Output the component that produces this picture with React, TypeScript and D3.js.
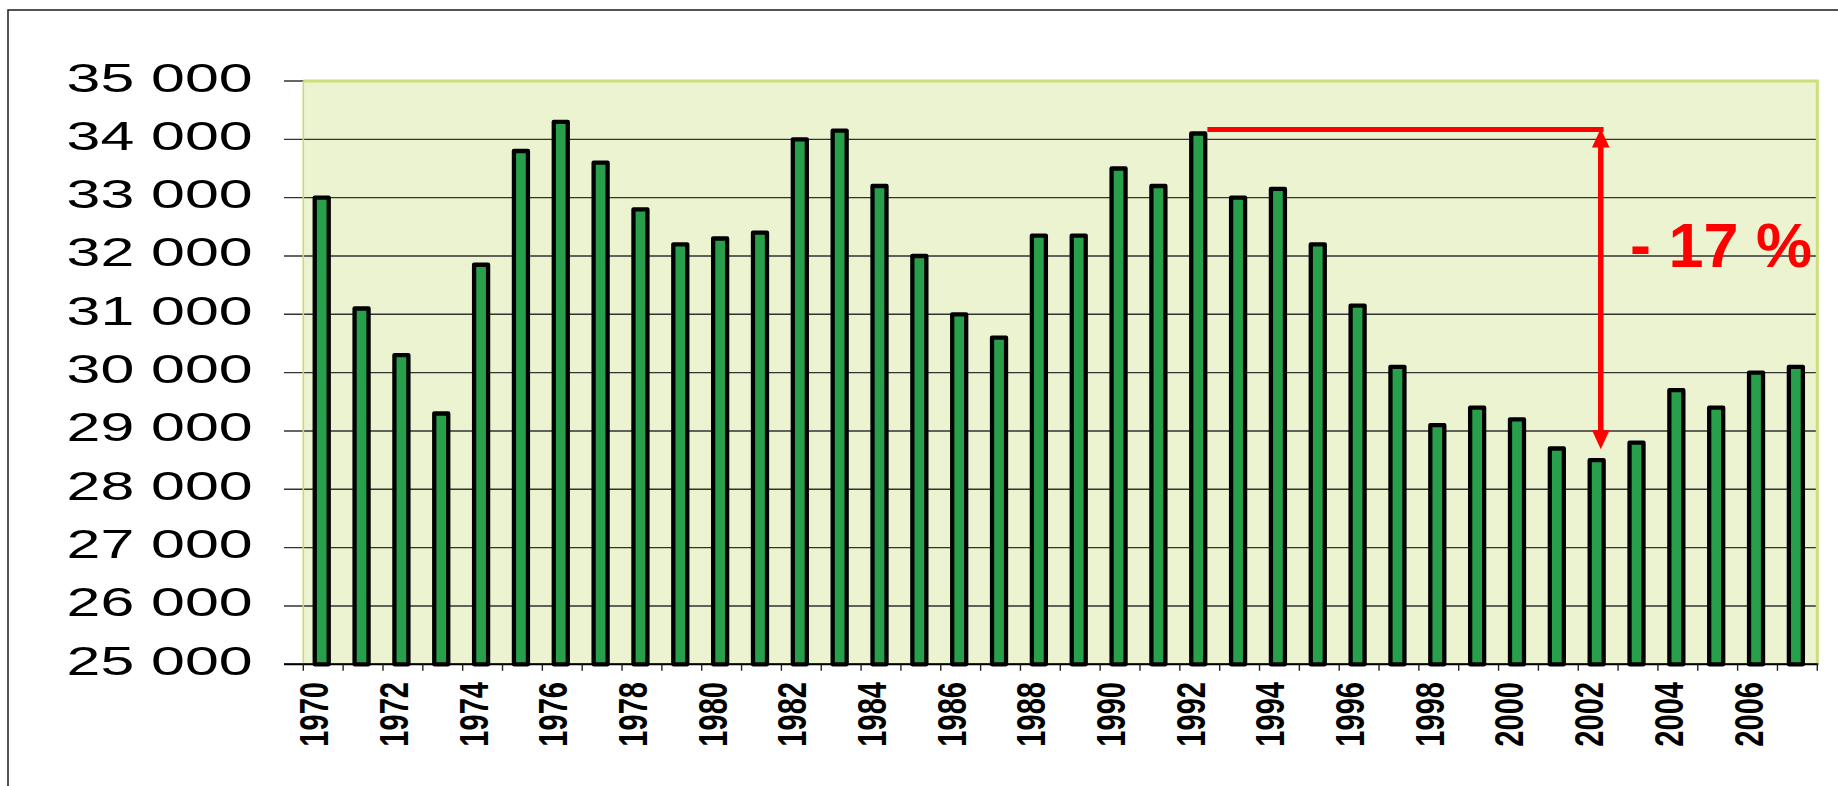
import React from 'react';
import * as d3 from 'd3';

const years = [
  1970, 1971, 1972, 1973, 1974, 1975, 1976, 1977, 1978, 1979,
  1980, 1981, 1982, 1983, 1984, 1985, 1986, 1987, 1988, 1989,
  1990, 1991, 1992, 1993, 1994, 1995, 1996, 1997, 1998, 1999,
  2000, 2001, 2002, 2003, 2004, 2005, 2006, 2007,
];
const values = [
  33000, 31100, 30300, 29300, 31850, 33800, 34300, 33600, 32800, 32200,
  32300, 32400, 34000, 34150, 33200, 32000, 31000, 30600, 32350, 32350,
  33500, 33200, 34100, 33000, 33150, 32200, 31150, 30100, 29100, 29400,
  29200, 28700, 28500, 28800, 29700, 29400, 30000, 30100,
];
const yTicks = [25000, 26000, 27000, 28000, 29000, 30000, 31000, 32000, 33000, 34000, 35000];
const xLabelYears = [1970, 1972, 1974, 1976, 1978, 1980, 1982, 1984, 1986, 1988, 1990, 1992, 1994, 1996, 1998, 2000, 2002, 2004, 2006];
const peakYear = 1992;
const troughYear = 2002;
const changeLabel = '- 17 %';

const W = 1838;
const H = 786;
const left = 303.3;
const right = 1817.3;
const top = 81;
const bottom = 664.3;

const fmt = (v: number) => `${Math.floor(v / 1000)} 000`;

export default function App() {
  const x = d3.scaleBand<number>().domain(years).range([left, right]).padding(0);
  const y = d3.scaleLinear().domain([25000, 35000]).range([bottom, top]);
  const bw = x.bandwidth();
  const barW = 14;
  const barStroke = 4.3;
  const barShift = -1.5;
  const cx = (yr: number) => (x(yr) as number) + bw / 2 + barShift;

  const peakVal = values[years.indexOf(peakYear)];
  const troughVal = values[years.indexOf(troughYear)];
  const lineY = y(peakVal) - 4;
  const arrowX = (x(troughYear) as number) + bw / 2 + 2.6;
  const topTip = lineY - 1;
  const botTip = y(troughVal) - 11;
  const headL = 19;
  const headHalf = 8.8;
  const red = '#ff0000';

  return (
    <svg width={W} height={H} style={{ position: 'absolute', left: 0, top: 0, background: '#ffffff' }}>
      <rect x={8} y={10} width={W + 20} height={H + 20} fill="#ffffff" stroke="#1a1a1a" strokeWidth={1.5} />
      {/* plot background */}
      <rect x={left} y={top} width={right - left} height={bottom - top} fill="#ebf3d1" />
      {/* gridlines + y ticks */}
      {yTicks.map((t) => (
        <line key={t} x1={284} x2={right} y1={y(t)} y2={y(t)} stroke="#333333" strokeWidth={1.4} />
      ))}
      {/* plot border */}
      <line x1={left} x2={left} y1={top} y2={bottom} stroke="#c9da78" strokeWidth={1.6} />
      <line x1={left} x2={right + 1.5} y1={top} y2={top} stroke="#cddf7a" strokeWidth={2.8} />
      <line x1={right} x2={right} y1={top} y2={bottom} stroke="#cddf7a" strokeWidth={3} />
      {/* bars */}
      {years.map((yr, i) => (
        <rect
          key={yr}
          x={cx(yr) - barW / 2}
          y={y(values[i])}
          width={barW}
          height={y(25000) - y(values[i])}
          fill="#28a04b"
          stroke="#000000"
          strokeWidth={barStroke}
          strokeLinejoin="round"
        />
      ))}
      {/* x axis */}
      <line x1={284} x2={right + 1} y1={bottom} y2={bottom} stroke="#000000" strokeWidth={2} />
      {years.concat([2008]).map((yr, i) => {
        const xx = left + i * bw;
        return <line key={'t' + yr} x1={xx} x2={xx} y1={bottom} y2={bottom + 6.5} stroke="#222222" strokeWidth={1.4} />;
      })}
      {/* y labels */}
      {yTicks.map((t) => (
        <text
          key={'l' + t}
          transform={`translate(252.5,${y(t) + 10.5}) scale(1.52,1)`}
          textAnchor="end"
          fontFamily="'Liberation Sans', Arial, sans-serif"
          fontSize={40}
          fill="#000000"
        >
          {fmt(t)}
        </text>
      ))}
      {/* x labels */}
      {xLabelYears.map((yr) => (
        <text
          key={'x' + yr}
          transform={`translate(${(x(yr) as number) + bw / 2 + 5},682) rotate(-90) scale(0.71,1)`}
          textAnchor="end"
          fontFamily="'Liberation Sans', Arial, sans-serif"
          fontWeight="bold"
          fontSize={41}
          fill="#000000"
        >
          {yr}
        </text>
      ))}
      {/* annotation */}
      <line x1={cx(peakYear) + barW / 2 + barStroke / 2} x2={arrowX + 2.8} y1={lineY} y2={lineY} stroke={red} strokeWidth={5} />
      <line x1={arrowX} x2={arrowX} y1={topTip + headL - 1} y2={botTip - headL + 1} stroke={red} strokeWidth={5.5} />
      <path d={`M${arrowX},${topTip} L${arrowX - headHalf},${topTip + headL} L${arrowX + headHalf},${topTip + headL} Z`} fill={red} />
      <path d={`M${arrowX},${botTip} L${arrowX - headHalf},${botTip - headL} L${arrowX + headHalf},${botTip - headL} Z`} fill={red} />
      <text
        x={1630}
        y={266.7}
        fontFamily="'Liberation Sans', Arial, sans-serif"
        fontWeight="bold"
        fontSize={63}
        fill={red}
      >
        {changeLabel}
      </text>
    </svg>
  );
}
